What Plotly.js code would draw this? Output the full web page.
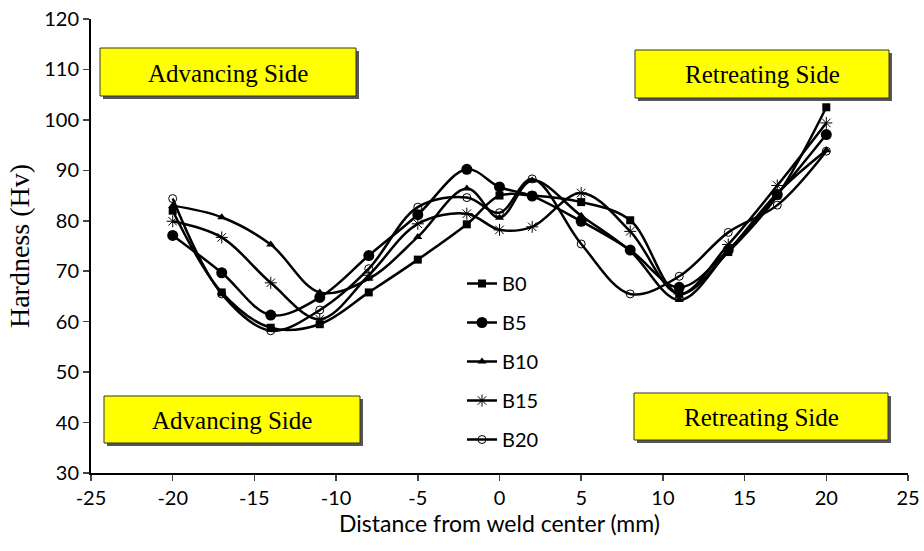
<!DOCTYPE html>
<html><head><meta charset="utf-8">
<script src="https://cdn.plot.ly/plotly-3.0.1.min.js"></script>
<style>body{margin:0;padding:0;background:#fff}#chart{width:924px;height:551px}</style>
</head><body><div id="chart"></div>
<script>
const distance = [-20, -17, -14, -11, -8, -5, -2, 0, 2, 5, 8, 11, 14, 17, 20];
const B0  = [82.0, 65.8, 58.8, 59.5, 65.8, 72.3, 79.3, 85.0, 85.0, 83.7, 80.1, 65.5, 73.8, 85.0, 102.5];
const B5  = [77.1, 69.7, 61.3, 64.8, 73.1, 81.2, 90.2, 86.7, 84.9, 79.9, 74.2, 66.8, 74.2, 85.2, 97.1];
const B10 = [83.0, 80.7, 75.3, 65.8, 68.5, 76.8, 86.4, 80.6, 88.0, 81.0, 74.0, 64.3, 74.0, 85.5, 94.0];
const B15 = [79.9, 76.7, 67.7, 60.5, 69.2, 79.4, 81.4, 78.2, 78.8, 85.5, 77.9, 65.5, 75.3, 87.0, 99.4];
const B20 = [84.4, 65.5, 58.2, 62.3, 70.5, 82.7, 84.6, 81.6, 88.3, 75.4, 65.5, 69.0, 77.7, 83.1, 93.8];
const seriesNames = ["B0", "B5", "B10", "B15", "B20"];
const seriesData = [B0, B5, B10, B15, B20];
const xTicks = [-25, -20, -15, -10, -5, 0, 5, 10, 15, 20, 25];
const xTickText = ["-25", "-20", "-15", "-10", "-5", "0", "5", "10", "15", "20", "25"];
const yTicks = [30, 40, 50, 60, 70, 80, 90, 100, 110, 120];
const boxLabels = ["Advancing Side", "Retreating Side", "Advancing Side", "Retreating Side"];

const markers = [
  {symbol: "square", size: 8, color: "#000"},
  {symbol: "circle", size: 11, color: "#000"},
  {symbol: "triangle-up", size: 8, color: "#000"},
  {symbol: "asterisk-open", size: 10, color: "#000", line: {color: "#000", width: 1}},
  {symbol: "circle-open", size: 8, color: "#000", line: {color: "#000", width: 1}}
];

const traces = seriesNames.map((n, i) => ({
  x: distance, y: seriesData[i], name: n, type: "scatter", mode: "lines+markers",
  line: {color: "#000", width: 2.5, shape: "spline", smoothing: 1},
  marker: markers[i], legendgroup: n
}));

const L = 91, T = 19, W = 817, H = 454;
function px(x){return (x - L)/W;}
function py(y){return (T + H - y)/H;}
const boxes = [
  [100, 48, 356, 96],
  [635, 50, 889, 98],
  [104, 396, 360, 443],
  [634, 393, 888, 440]
];
const shapes = [];
const annotations = [];
boxes.forEach((b, i) => {
  shapes.push({type: "rect", xref: "paper", yref: "paper", x0: px(b[0]+3), x1: px(b[2]+3), y0: py(b[3]+3), y1: py(b[1]+3),
    fillcolor: "#555", line: {width: 0}, layer: "above"});
  shapes.push({type: "rect", xref: "paper", yref: "paper", x0: px(b[0]), x1: px(b[2]), y0: py(b[3]), y1: py(b[1]),
    fillcolor: "#ffff00", line: {color: "#333", width: 1}, layer: "above"});
  annotations.push({xref: "paper", yref: "paper", x: px((b[0]+b[2])/2), y: py((b[1]+b[3])/2 + 1),
    text: boxLabels[i], showarrow: false, xanchor: "center", yanchor: "middle",
    font: {family: "Liberation Serif, Times New Roman, serif", size: 25, color: "#000"}});
});

const layout = {
  width: 924, height: 551,
  margin: {l: L, r: 924 - L - W, t: T, b: 551 - T - H},
  paper_bgcolor: "#fff", plot_bgcolor: "#fff",
  font: {family: "Lato, Open Sans, sans-serif", size: 20, color: "#000"},
  xaxis: {range: [-25, 25], tickvals: xTicks, ticktext: xTickText, ticks: "outside", ticklen: 6, tickwidth: 1.5,
    showgrid: false, zeroline: false, showline: true, linecolor: "#000", linewidth: 2,
    title: {text: "Distance from weld center (mm)", font: {size: 23}, standoff: 4},
    tickfont: {size: 20}},
  yaxis: {range: [30, 120], tickvals: yTicks, ticks: "outside", ticklen: 6, tickwidth: 1.5,
    showgrid: false, zeroline: false, showline: true, linecolor: "#000", linewidth: 2,
    title: {text: "Hardness (Hv)", font: {family: "Liberation Serif, Times New Roman, serif", size: 28}, standoff: 6},
    tickfont: {size: 20}},
  showlegend: true,
  legend: {x: px(462), y: py(264), xanchor: "left", yanchor: "top", bgcolor: "rgba(0,0,0,0)",
    font: {size: 20}, traceorder: "grouped", tracegroupgap: 10},
  shapes: shapes, annotations: annotations
};
Plotly.newPlot("chart", traces, layout, {displayModeBar: false, staticPlot: true});
</script></body></html>
